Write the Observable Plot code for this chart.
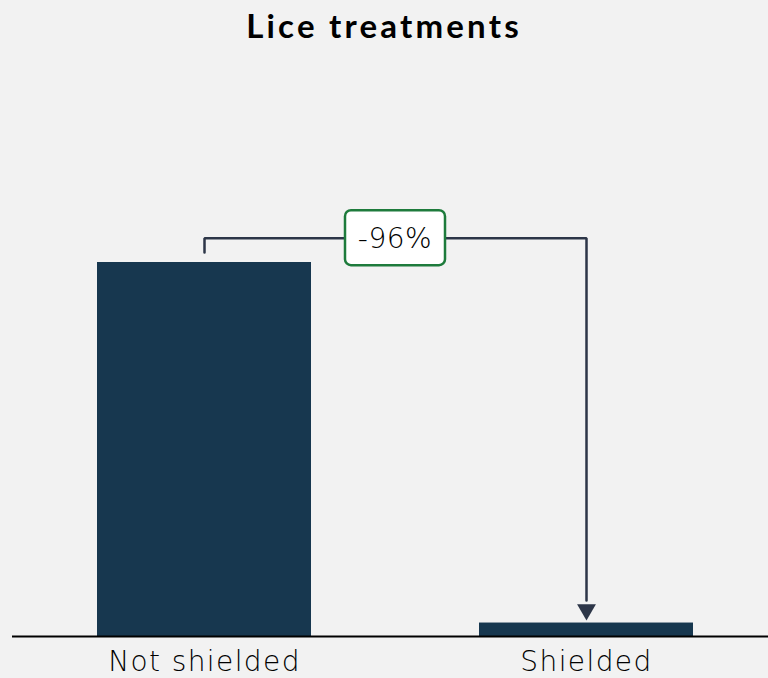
<!DOCTYPE html>
<html>
<head>
<meta charset="utf-8">
<script src="https://cdn.jsdelivr.net/npm/d3@7"></script>
<script src="https://cdn.jsdelivr.net/npm/@observablehq/plot@0.6"></script>
<style>
  html, body { margin: 0; padding: 0; background: #f2f2f2; }
  #title { height: 50px; line-height: 50px; text-align: center; font-family: "Lato", sans-serif; font-weight: 700; font-size: 33px; letter-spacing: 3.2px; color: #000; }
  #chart svg { display: block; }
</style>
</head>
<body>
<div id="title">Lice treatments</div>
<div id="chart"></div>
<script>
const categories = ["Not shielded", "Shielded"];
const values = [100, 3.6];
const changeLabel = "-96%";

const data = categories.map((c, i) => ({category: c, value: values[i]}));

const W = 768, H = 628;
const maxVal = values[0];
const bracketY = maxVal * 1.065;
const startY = maxVal * 1.027;
const tipY = values[1] + 2.5;

const bracket = [
  {x: categories[0], y: startY},
  {x: categories[0], y: bracketY},
  {x: categories[1], y: bracketY},
  {x: categories[1], y: tipY + 3.5}
];

const labelFont = "'DejaVu Sans', sans-serif";

const plot = Plot.plot({
  width: W,
  height: H,
  marginLeft: 12,
  marginRight: 0,
  marginTop: 0,
  marginBottom: 42,
  style: {background: "#f2f2f2", fontFamily: labelFont, overflow: "visible"},
  x: {domain: categories, range: [22, W], paddingInner: 0.439, paddingOuter: 0.1935, label: null},
  y: {domain: [0, 100], range: [H - 42, 212], axis: null},
  marks: [
    Plot.barY(data, {x: "category", y: "value", fill: "#17374f"}),
    Plot.ruleY([0], {stroke: "#000", strokeWidth: 2}),
    Plot.axisX({tickSize: 0, tickPadding: 15, fontSize: 28, fontWeight: 200, fill: "#000", label: null}),
    Plot.line(bracket, {x: "x", y: "y", stroke: "#2d3648", strokeWidth: 2.5, curve: "linear", strokeLinejoin: "miter"}),
    Plot.dot([{x: categories[1], y: tipY}], {x: "x", y: "y", symbol: "triangle", r: 7, rotate: 180, fill: "#2d3648", stroke: "none", dy: -4})
  ]
});

document.getElementById("chart").appendChild(plot);

// letter spacing for the category labels
d3.select(plot).selectAll('g[aria-label="x-axis tick label"] text').style("letter-spacing", "1.4px");

// label box centred between the two bars, on the bracket
const sx = plot.scale("x"), sy = plot.scale("y");
const cx = ((sx.apply(categories[0]) + sx.apply(categories[1])) / 2) + sx.bandwidth / 2;
const cy = sy.apply(bracketY);
const svg = d3.select(plot);
const g = svg.append("g");
g.append("rect")
  .attr("x", cx - 50).attr("y", cy - 27.5)
  .attr("width", 100).attr("height", 55)
  .attr("rx", 6).attr("ry", 6)
  .attr("fill", "#fff").attr("stroke", "#1e7b3c").attr("stroke-width", 2.5);
g.append("text")
  .attr("x", cx).attr("y", cy)
  .attr("text-anchor", "middle").attr("dy", "0.36em")
  .attr("font-size", 28).attr("font-weight", 200)
  .attr("font-family", labelFont)
  .attr("fill", "#000")
  .style("letter-spacing", "0.5px")
  .text(changeLabel);
</script>
</body>
</html>
